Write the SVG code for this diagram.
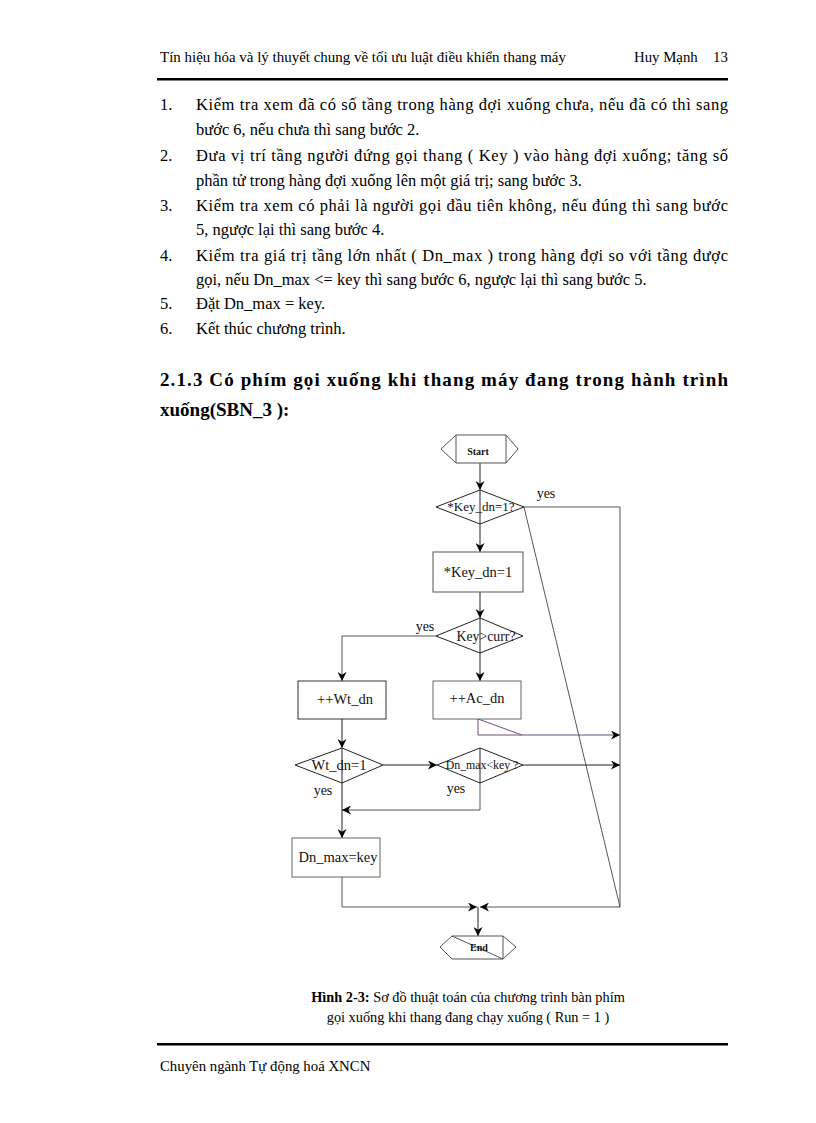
<svg xmlns="http://www.w3.org/2000/svg" width="816" height="1123" viewBox="0 0 816 1123">
<style>
.t{font-family:"Liberation Serif","DejaVu Serif",serif;fill:#000}
.hd{font-size:14.8px}
.bd{font-size:16.5px}
.h2{font-size:19px;font-weight:bold}
.nt{font-family:"Liberation Serif","DejaVu Serif",serif;font-size:14.5px;fill:#111;text-anchor:middle}
.box{fill:#fff;stroke:#555;stroke-width:1}
.ln{fill:none;stroke:#555;stroke-width:1}
.ar{fill:none;stroke:#222;stroke-width:1}
</style>
<defs>
<marker id="ah" viewBox="0 0 10 10" refX="10" refY="5" markerWidth="9" markerHeight="9" markerUnits="userSpaceOnUse" orient="auto">
<path d="M0,0 L10,5 L0,10 L3,5 Z" fill="#000"/>
</marker>
</defs>
<rect width="816" height="1123" fill="#fff"/>
<g id="header">
<text class="t hd" x="160" y="62" textLength="406" lengthAdjust="spacingAndGlyphs">Tín hiệu hóa và lý thuyết chung về tối ưu luật điều khiển thang máy</text>
<text class="t hd" x="634" y="62">Huy Mạnh</text>
<text class="t hd" x="713" y="62">13</text>
<rect x="157" y="78" width="571" height="2.5" fill="#000"/>
</g>
<g id="body">
<text class="t bd" x="160" y="110">1.</text>
<text class="t bd" x="196" y="110" textLength="532" lengthAdjust="spacing">Kiểm tra xem đã có số tầng trong hàng đợi xuống chưa, nếu đã có thì sang</text>
<text class="t bd" x="196" y="135">bước 6, nếu chưa thì sang bước 2.</text>
<text class="t bd" x="160" y="161">2.</text>
<text class="t bd" x="196" y="161" textLength="532" lengthAdjust="spacing">Đưa vị trí tầng người đứng gọi thang ( Key )  vào hàng đợi xuống; tăng số</text>
<text class="t bd" x="196" y="186">phần tử trong hàng đợi xuống lên một giá trị; sang bước 3.</text>
<text class="t bd" x="160" y="211">3.</text>
<text class="t bd" x="196" y="211" textLength="532" lengthAdjust="spacing">Kiểm tra xem có phải là người gọi đầu tiên không, nếu đúng thì sang bước</text>
<text class="t bd" x="196" y="235">5, ngược lại thì sang bước 4.</text>
<text class="t bd" x="160" y="261">4.</text>
<text class="t bd" x="196" y="261" textLength="532" lengthAdjust="spacing">Kiểm tra giá trị tầng lớn nhất ( Dn_max ) trong hàng đợi so với tầng được</text>
<text class="t bd" x="196" y="285">gọi, nếu Dn_max &lt;= key thì sang bước 6, ngược lại thì sang bước 5.</text>
<text class="t bd" x="160" y="309">5.</text>
<text class="t bd" x="196" y="309">Đặt Dn_max = key.</text>
<text class="t bd" x="160" y="334">6.</text>
<text class="t bd" x="196" y="334">Kết thúc chương trình.</text>
<text class="t h2" x="160" y="386" textLength="568" lengthAdjust="spacing">2.1.3 Có phím gọi xuống khi thang máy đang trong hành trình</text>
<text class="t h2" x="160" y="416">xuống(SBN_3 ):</text>
</g>
<g id="connectors">
<line class="ar" x1="480" y1="463" x2="480" y2="490" marker-end="url(#ah)"/>
<line class="ar" x1="480" y1="490" x2="480" y2="552" marker-end="url(#ah)"/>
<polyline class="ln" points="524,507 620,507 620,907"/>
<line class="ln" x1="524" y1="507" x2="620" y2="907"/>
<line class="ar" x1="480" y1="592" x2="480" y2="618" marker-end="url(#ah)"/>
<line class="ar" x1="480" y1="618" x2="480" y2="681" marker-end="url(#ah)"/>
<polyline class="ln" points="436,636 342,636 342,681" marker-end="url(#ah)"/>
<polyline class="ln" points="478,719 478,735 620,735" style="stroke:#6a4f7a" marker-end="url(#ah)"/>
<line class="ln" x1="478" y1="719" x2="522" y2="735" style="stroke:#6a4f7a"/>
<line class="ar" x1="342" y1="719" x2="342" y2="748" marker-end="url(#ah)"/>
<line class="ar" x1="383" y1="765" x2="437" y2="765" marker-end="url(#ah)"/>
<line class="ar" x1="480" y1="748" x2="480" y2="783"/>
<line class="ar" x1="523" y1="765" x2="620" y2="765" marker-end="url(#ah)"/>
<polyline class="ln" points="480,783 480,810 342,810" marker-end="url(#ah)"/>
<line class="ar" x1="342" y1="748" x2="342" y2="838" marker-end="url(#ah)"/>
<polyline class="ln" points="342,877 342,907 477,907" marker-end="url(#ah)"/>
<line class="ln" x1="620" y1="907" x2="480" y2="907" marker-end="url(#ah)"/>
<line class="ar" x1="478" y1="907" x2="478" y2="936" marker-end="url(#ah)"/>
<text class="nt" x="546" y="498" style="font-size:14px">yes</text>
<text class="nt" x="425" y="631" style="font-size:14px">yes</text>
<text class="nt" x="323" y="795" style="font-size:14px">yes</text>
<text class="nt" x="456" y="793" style="font-size:14px">yes</text>
</g>
<g id="start">
<path class="box" d="M456,435 L506,435 L518,449 L506,463 L456,463 L441,449 Z"/>
<line class="ln" x1="456" y1="435" x2="456" y2="463"/>
<line class="ln" x1="506" y1="435" x2="506" y2="463"/>
<text class="nt" x="478" y="455" style="font-size:10px;font-weight:bold">Start</text>
</g>
<g id="d1">
<path class="box" d="M480,490 L524,507 L480,524 L436,507 Z" style="fill:none;stroke:#222"/>
<text class="nt" x="481" y="511" style="font-size:13px">*Key_dn=1?</text>
</g>
<g id="b1">
<rect class="box" x="433" y="552" width="90" height="40"/>
<text class="nt" x="478" y="577">*Key_dn=1</text>
</g>
<g id="d2">
<path class="box" d="M480,618 L523,636 L480,653 L436,636 Z" style="fill:none;stroke:#222"/>
<text class="nt" x="486" y="641" style="font-size:13.8px">Key&gt;curr?</text>
</g>
<g id="b2">
<rect class="box" x="298" y="681" width="88" height="38" style="stroke:#333"/>
<text class="nt" x="345" y="704">++Wt_dn</text>
</g>
<g id="b3">
<rect class="box" x="433" y="681" width="88" height="38" style="stroke:#666"/>
<text class="nt" x="477" y="703">++Ac_dn</text>
</g>
<g id="d3">
<path class="box" d="M342,748 L383,765 L342,783 L295,765 Z" style="fill:none;stroke:#222"/>
<text class="nt" x="339" y="770">Wt_dn=1</text>
</g>
<g id="d4">
<path class="box" d="M480,748 L523,765 L480,783 L437,765 Z" style="fill:none;stroke:#222"/>
<text class="nt" x="482" y="769" style="font-size:11.8px">Dn_max&lt;key ?</text>
</g>
<g id="b4">
<rect class="box" x="292" y="838" width="88" height="39" style="stroke:#5b6b5b"/>
<text class="nt" x="338" y="862">Dn_max=key</text>
</g>
<g id="end">
<path class="box" d="M452,936 L503,936 L516,947 L503,959 L452,959 L440,947 Z"/>
<line class="ln" x1="503" y1="936" x2="503" y2="959"/>
<line class="ln" x1="452" y1="936" x2="503" y2="959"/>
<text class="nt" x="479" y="951" style="font-size:10px;font-weight:bold">End</text>
</g>
<g id="caption">
<text class="t" x="468" y="1002" style="font-size:14.3px" text-anchor="middle"><tspan font-weight="bold">Hình 2-3:</tspan> Sơ đồ thuật toán của chương trình bàn phím</text>
<text class="t" x="468" y="1022" style="font-size:14.3px" text-anchor="middle">gọi xuống khi thang đang chạy xuống ( Run = 1 )</text>
</g>
<g id="footer">
<rect x="157" y="1043" width="571" height="2.5" fill="#000"/>
<text class="t hd" x="160" y="1071">Chuyên ngành Tự động hoá XNCN</text>
</g>
</svg>
